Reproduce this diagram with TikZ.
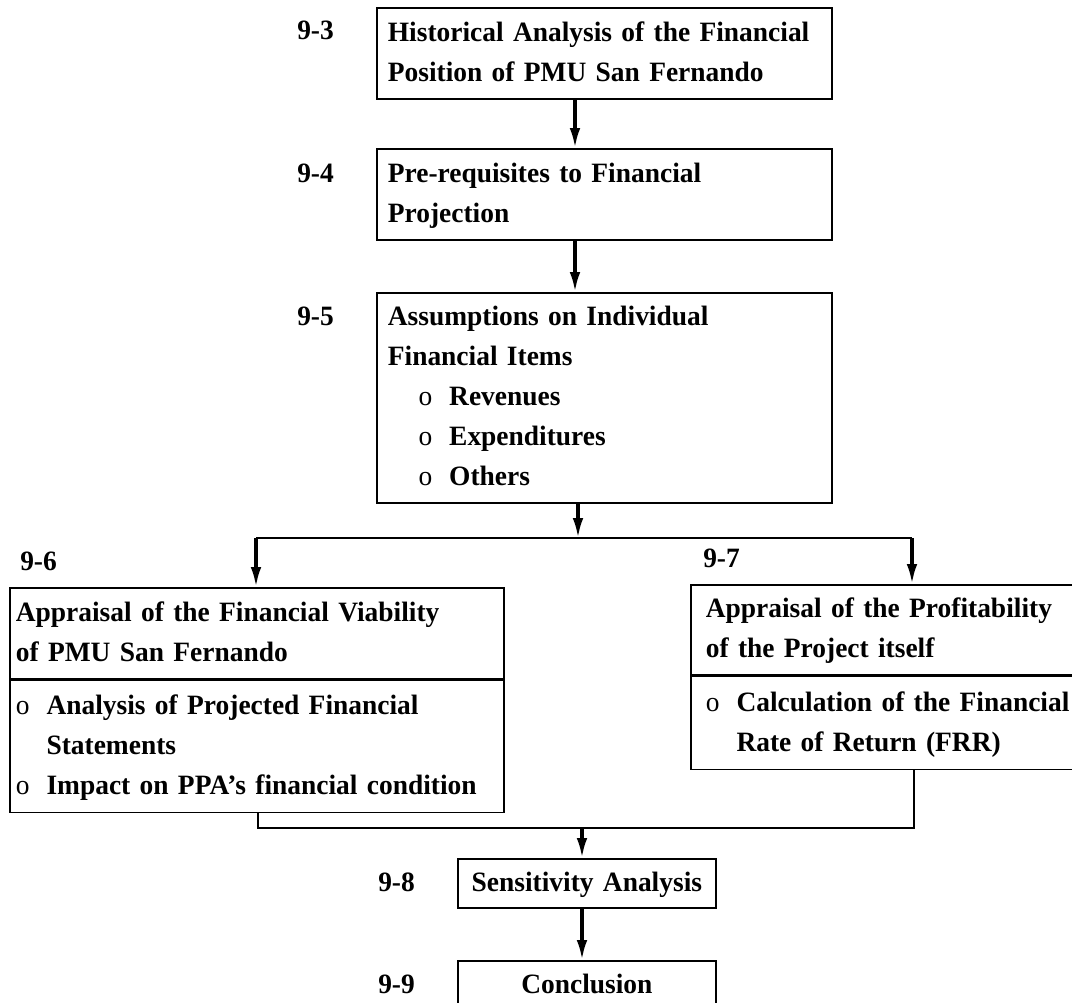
\documentclass[tikz,border=0pt]{standalone}
\usepackage{fontspec}
\setmainfont{Liberation Serif}[FakeStretch=0.98]
\usetikzlibrary{arrows.meta,positioning}

\hyphenpenalty=10000
\exhyphenpenalty=10000
\newcommand{\bul}{\makebox[23pt][l]{\mdseries o}}
\newcommand{\hang}{\hspace*{23pt}}

\begin{document}
\begin{tikzpicture}[x=0.75pt, y=-0.75pt,
  every node/.style={font=\fontsize{21}{30}\selectfont\bfseries},
  box/.style={draw, line width=1.3pt, rectangle, anchor=north west, align=left, inner ysep=0pt},
  wide/.style={minimum width=341.25pt, minimum height=68.25pt, text width=324.75pt, inner xsep=8.25pt},
  left/.style={minimum width=370.5pt, text width=361.5pt, inner xsep=4.5pt},
  right/.style={minimum width=300pt, text width=277.5pt, inner xsep=11.25pt},
  small/.style={minimum width=193.5pt, minimum height=36.75pt, text width=180pt, inner xsep=6.75pt, align=center},
  num/.style={anchor=base west, inner sep=0pt},
  arr/.style={line width=2.4pt, -{Latex[length=15pt,width=8pt]}},
  link/.style={line width=1.3pt}]

\useasboundingbox (0,0) rectangle (1072,1003);

\node[box, wide] (b93) at (376,7) {\strut Historical Analysis of the Financial\\ Position of PMU San Fernando\strut};
\node[box, wide] (b94) at (376,148) {\strut Pre-requisites to Financial\\ Projection\strut};
\node[box, wide, minimum height=157.5pt] (b95) at (376,292) {\strut Assumptions on Individual\\ Financial Items\\
  \hang\bul Revenues\\ \hang\bul Expenditures\\ \hang\bul Others\strut};

\node[box, left, minimum height=68.25pt] (b96a) at (9,587) {\strut Appraisal of the Financial Viability\\ of PMU San Fernando\strut};
\node[box, left, minimum height=99pt] (b96b) at (b96a.south west) {\strut\bul Analysis of Projected Financial\\
  \hang Statements\\ \bul Impact on PPA's financial condition\strut};

\node[box, right, minimum height=67.5pt] (b97a) at (690,584) {\strut Appraisal of the Profitability\\ of the Project itself\strut};
\node[box, right, minimum height=69.75pt] (b97b) at (b97a.south west) {\strut\bul Calculation of the Financial\\
  \hang Rate of Return (FRR)\strut};

\node[box, small] (b98) at (457,858) {\strut Sensitivity Analysis};
\node[box, small] (b99) at (457,960) {\strut Conclusion};

\node[num] (l93) at (297,40) {9-3};
\node[num] (l94) at (297,182) {9-4};
\node[num] (l95) at (297,325) {9-5};
\node[num] (l96) at (20,570) {9-6};
\node[num] (l97) at (703,567) {9-7};
\node[num] (l98) at (378,891) {9-8};
\node[num] (l99) at (378,993) {9-9};

\coordinate (spine) at (575,0);
\coordinate (split) at (578,538);
\coordinate (splitl) at (256,538);
\coordinate (splitr) at (912,538);
\coordinate (joinl) at (258,828);
\coordinate (joinr) at (914,828);
\coordinate (join) at (582,828);

\draw[arr] (b93.south -| spine) -- (b94.north -| spine);
\draw[arr] (b94.south -| spine) -- (b95.north -| spine);
\draw[arr] (b95.south -| split) -- (split);
\draw[link] (splitl) -- (splitr);
\draw[arr] (splitl) -- (b96a.north -| splitl);
\draw[arr] (splitr) -- (b97a.north -| splitr);
\draw[link] (b96b.south -| joinl) -- (joinl) -- (joinr) -- (b97b.south -| joinr);
\draw[arr] (join) -- (b98.north -| join);
\draw[arr] (b98.south -| join) -- (b99.north -| join);

\end{tikzpicture}
\end{document}
